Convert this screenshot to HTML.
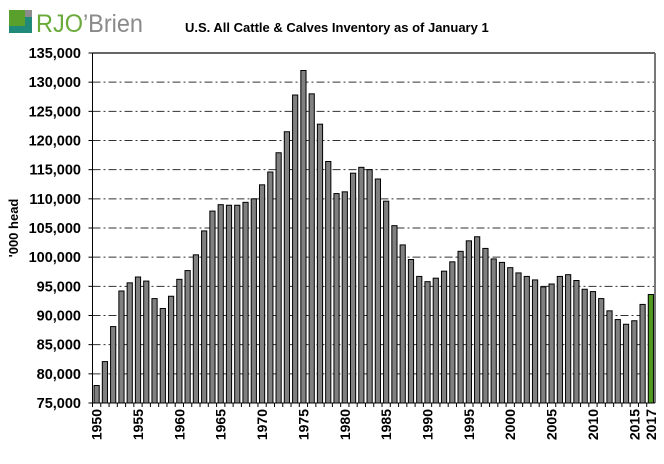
<!DOCTYPE html>
<html><head><meta charset="utf-8"><style>
body{margin:0;background:#fff;width:664px;height:459px;overflow:hidden;font-family:"Liberation Sans",Arial,sans-serif}
</style></head><body>
<svg id="chart" width="664" height="459" xmlns="http://www.w3.org/2000/svg">
<g>
<rect x="9" y="10" width="16" height="16" fill="#5aa02c"/>
<rect x="25" y="10" width="7" height="7" fill="#8c8c8c"/>
<polygon points="9,33 32,33 32,17 25,17 25,26 9,26" fill="#1f8a7a"/>
<text x="36" y="32" font-size="25" fill="#6aaa3a" textLength="107" lengthAdjust="spacingAndGlyphs" font-family="Liberation Sans,sans-serif">RJO<tspan fill="#8a8a8a">’Brien</tspan></text>
</g>
<text x="185" y="32" font-size="13" font-weight="bold" fill="#000">U.S. All Cattle &amp; Calves Inventory as of January 1</text>
<g id="grid"></g>
<g id="bars"></g>
<g id="axes"></g>
<text transform="translate(18,228) rotate(-90)" text-anchor="middle" font-size="13" font-weight="bold">'000 head</text>
</svg>
<script>
const years=[];for(let y=1950;y<=2017;y++)years.push(y);
const values=[78.0,82.1,88.1,94.2,95.6,96.6,95.9,92.9,91.2,93.3,96.2,97.7,100.4,104.5,107.9,109.0,108.9,108.9,109.4,110.0,112.4,114.6,117.9,121.5,127.8,132.0,128.0,122.8,116.4,110.9,111.2,114.4,115.4,115.0,113.4,109.6,105.4,102.1,99.6,96.7,95.8,96.4,97.6,99.2,101.0,102.8,103.5,101.5,99.7,99.1,98.2,97.3,96.7,96.1,94.9,95.4,96.7,97.0,96.0,94.5,94.1,92.9,90.8,89.3,88.5,89.1,91.9,93.6];
const yTicks=[75,80,85,90,95,100,105,110,115,120,125,130,135];
const xLabels=[1950,1955,1960,1965,1970,1975,1980,1985,1990,1995,2000,2005,2010,2015,2017];
const NS="http://www.w3.org/2000/svg";
const L=92.5,R=655,T=53,B=403,ymin=75,ymax=135;
const slot=(R-L)/years.length;
const yS=v=>B-(v-ymin)/(ymax-ymin)*(B-T);
const xS=i=>L+slot*(i+0.5);
function mk(tag,attrs,parent){const e=document.createElementNS(NS,tag);for(const k in attrs)e.setAttribute(k,attrs[k]);parent.appendChild(e);return e;}
const grid=document.getElementById('grid'),bars=document.getElementById('bars'),axes=document.getElementById('axes');
yTicks.forEach(t=>{const y=yS(t);
 if(t>ymin&&t<ymax){const g=mk('line',{x1:L,x2:R,y1:y,y2:y,stroke:'#333','stroke-width':1,'stroke-dasharray':'8,3,2,3'},grid);
 
 }
 const tk=mk('line',{x1:L-4,x2:L,y1:y,y2:y,stroke:'#000'},axes);
 
 
 const tx=mk('text',{x:81,y:y+5,'text-anchor':'end','font-size':14.5,'font-weight':'bold'},axes);
 tx.textContent=(t*1000).toLocaleString('en-US');
 
 
});
values.forEach((v,i)=>{const w=5.2,x=xS(i)-w/2,y=yS(v);
 const b=mk('rect',{x:x,y:y,width:w,height:B-y,fill:i===values.length-1?'#4f9a1f':'#808080',stroke:'#000','stroke-width':1},bars);
 
 
 const tk=mk('line',{x1:L+slot*i,x2:L+slot*i,y1:B,y2:B+4,stroke:'#000'},axes);
 
 
});
xLabels.forEach(yr=>{const i=years.indexOf(yr);const x=xS(i)+5;
 const t=mk('text',{transform:`translate(${x},${B+6}) rotate(-90)`,'text-anchor':'end','font-size':14,'font-weight':'bold'},axes);
 t.textContent=yr;
 
 
});
const topBorder=mk('line',{x1:L,x2:R,y1:T,y2:T,stroke:'#333','stroke-width':1.5},axes);


const rightBorder=mk('line',{x1:R,x2:R,y1:T,y2:B,stroke:'#777','stroke-width':2},axes);


const yAxisLine=mk('line',{x1:L,x2:L,y1:T,y2:B,stroke:'#000'},axes);


const xAxisLine=mk('line',{x1:L,x2:R,y1:B,y2:B,stroke:'#000'},axes);


</script>
</body></html>
